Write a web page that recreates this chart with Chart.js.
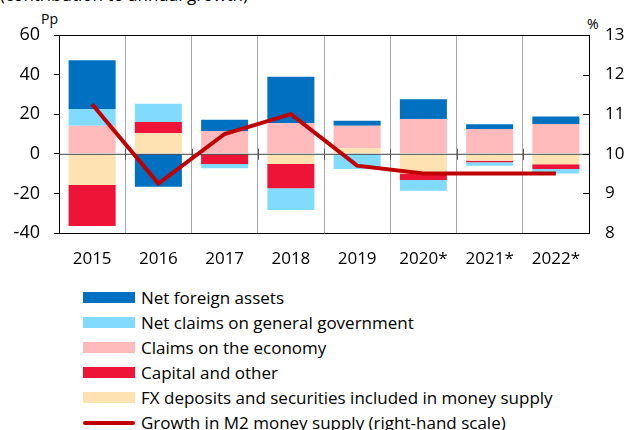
<!DOCTYPE html>
<html>
<head>
<meta charset="utf-8">
<script src="https://cdn.jsdelivr.net/npm/chart.js@4"></script>
<style>
body { margin: 0; width: 627px; height: 430px; overflow: hidden; background: #fff; position: relative; font-family: "Open Sans", sans-serif; color: #000; }
#title { position: absolute; left: 0; top: -17px; font-size: 17px; white-space: nowrap; }
#unitLeft { position: absolute; left: 41px; top: 9px; font-size: 14px; }
#unitRight { position: absolute; left: 587px; top: 14px; font-size: 14px; }
#wrap { position: absolute; left: 0; top: 0; width: 627px; height: 280px; }
#legend { position: absolute; left: 83px; top: 285px; }
.item { height: 25px; display: flex; align-items: center; font-size: 17px; white-space: nowrap; }
.box { width: 52px; height: 11px; margin-right: 6px; }
.line { width: 52px; height: 4px; border-radius: 2px; margin-right: 6px; }
</style>
</head>
<body>
<div id="title">(contribution to annual growth)</div>
<div id="unitLeft">Pp</div>
<div id="unitRight">%</div>
<div id="wrap"><canvas id="myChart"></canvas></div>
<div id="legend"></div>
<script>
var years = ['2015', '2016', '2017', '2018', '2019', '2020*', '2021*', '2022*'];
var netForeignAssets = [24.6, -16.6, 5.7, 23.5, 2.5, 10.1, 2.4, 3.9];
var netClaimsGov = [8.4, 9.2, -2.1, -11.0, -7.7, -5.4, -1.7, -2.3];
var claimsEconomy = [14.2, 0, 11.5, 15.4, 11.4, 17.4, 12.5, 15.0];
var capitalOther = [-20.7, 5.7, -5.2, -12.2, 0, -3.2, -0.8, -2.4];
var fxDeposits = [-15.8, 10.4, 0, -5.2, 2.8, -10.0, -3.5, -5.3];
var m2Growth = [11.25, 9.25, 10.5, 11.0, 9.7, 9.5, 9.5, 9.5];

Chart.defaults.font.family = '"Open Sans", sans-serif';
Chart.defaults.color = '#000';

// draws the box border, the zero line on top of the bars and the inward ticks on the right axis
var framePlugin = {
    id: 'frame',
    afterDatasetDraw: function (chart, args) {
        if (args.index !== 0) return;
        var c = chart.ctx, a = chart.chartArea, y = chart.scales.y, x = chart.scales.x;
        var y0 = y.getPixelForValue(0);
        c.save();
        c.strokeStyle = '#444';
        c.lineWidth = 1;
        c.beginPath();
        c.moveTo(a.left, y0 + 0.5);
        c.lineTo(a.right, y0 + 0.5);
        c.stroke();
        c.strokeStyle = '#555';
        for (var i = 1; i < years.length; i++) {
            var bx = Math.round((x.getPixelForValue(i - 1) + x.getPixelForValue(i)) / 2) + 0.5;
            c.beginPath();
            c.moveTo(bx, y0 - 5);
            c.lineTo(bx, y0 + 6);
            c.stroke();
        }
        c.restore();
    },
    afterDraw: function (chart) {
        var c = chart.ctx, a = chart.chartArea, y2 = chart.scales.y2;
        c.save();
        c.strokeStyle = '#000';
        c.lineWidth = 1;
        c.beginPath();
        c.moveTo(a.left, a.top + 0.5);
        c.lineTo(a.right, a.top + 0.5);
        c.stroke();
        y2.ticks.forEach(function (t) {
            var py = Math.round(y2.getPixelForValue(t.value)) + 0.5;
            c.beginPath();
            c.moveTo(a.right - 6, py);
            c.lineTo(a.right, py);
            c.stroke();
        });
        c.restore();
    }
};

var ctx = document.getElementById('myChart').getContext('2d');
var myChart = new Chart(ctx, {
    type: 'bar',
    data: {
        labels: years,
        datasets: [
            { label: 'FX deposits and securities included in money supply', data: fxDeposits, backgroundColor: 'rgb(255, 226, 178)', rank: 5 },
            { label: 'Claims on the economy', data: claimsEconomy, backgroundColor: 'rgb(255, 186, 188)', rank: 3 },
            { label: 'Capital and other', data: capitalOther, backgroundColor: 'rgb(237, 20, 55)', rank: 4 },
            { label: 'Net claims on general government', data: netClaimsGov, backgroundColor: 'rgb(128, 219, 255)', rank: 2 },
            { label: 'Net foreign assets', data: netForeignAssets, backgroundColor: 'rgb(0, 112, 192)', rank: 1 },
            {
                type: 'line',
                label: 'Growth in M2 money supply (right-hand scale)',
                data: m2Growth,
                yAxisID: 'y2',
                borderColor: 'rgb(192, 0, 0)',
                backgroundColor: 'rgb(192, 0, 0)',
                borderWidth: 4,
                pointRadius: 0,
                tension: 0,
                order: -1,
                rank: 6
            }
        ]
    },
    options: {
        responsive: true,
        maintainAspectRatio: false,
        animation: false,
        layout: { padding: { top: 35, left: 0, right: 0, bottom: 0 } },
        datasets: { bar: { barPercentage: 0.71, categoryPercentage: 1 } },
        plugins: { legend: { display: false }, tooltip: { enabled: false } },
        scales: {
            x: {
                stacked: true,
                grid: { offset: true, color: '#a8a8a8', drawTicks: false },
                border: { color: '#000' },
                ticks: { font: { size: 17 }, padding: 16 },
                afterFit: function (s) { s.height = 47; }
            },
            y: {
                stacked: true,
                position: 'left',
                min: -40,
                max: 60,
                ticks: { stepSize: 20, font: { size: 18 }, padding: 14 },
                grid: { color: 'transparent', tickColor: '#000', tickLength: 5 },
                border: { color: '#000' },
                afterFit: function (s) { s.width = 59; }
            },
            y2: {
                position: 'right',
                min: 8,
                max: 13,
                ticks: { stepSize: 1, font: { size: 17 }, padding: 16 },
                grid: { drawOnChartArea: false, drawTicks: false },
                border: { color: '#000' },
                afterFit: function (s) { s.width = 38; }
            }
        }
    },
    plugins: [framePlugin]
});

// html legend, one item per row
var legend = document.getElementById('legend');
myChart.data.datasets.slice().sort(function (a, b) { return a.rank - b.rank; }).forEach(function (ds) {
    var item = document.createElement('div');
    item.className = 'item';
    var sw = document.createElement('span');
    sw.className = ds.type === 'line' ? 'line' : 'box';
    sw.style.background = ds.type === 'line' ? ds.borderColor : ds.backgroundColor;
    item.appendChild(sw);
    item.appendChild(document.createTextNode(ds.label));
    legend.appendChild(item);
});
</script>
</body>
</html>
